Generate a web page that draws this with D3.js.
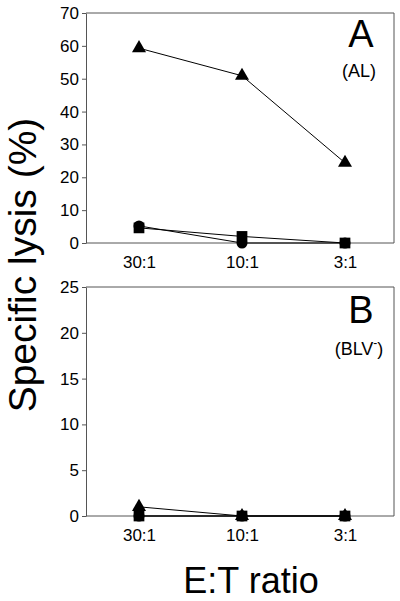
<!DOCTYPE html>
<html>
<head>
<meta charset="utf-8">
<script src="https://cdn.jsdelivr.net/npm/d3@7"></script>
<style>
  html, body { margin: 0; padding: 0; background: #fff; }
  svg { display: block; font-family: "Liberation Sans", Arial, Helvetica, sans-serif; }
</style>
</head>
<body>
<svg id="chart" width="400" height="601"></svg>
<script>
// ---- data ----
const ratios = ["30:1", "10:1", "3:1"];
const panelATicks = [0, 10, 20, 30, 40, 50, 60, 70];
const panelBTicks = [0, 5, 10, 15, 20, 25];
// Panel A (AL)
const aTriangle = [59.3, 50.9, 24.4];
const aCircle = [5.2, 0, 0];
const aSquare = [4.6, 2.0, 0];
// Panel B (BLV-)
const bTriangle = [1.0, 0, 0];
const bCircle = [0, 0, 0];
const bSquare = [0, 0, 0];

const svg = d3.select("#chart");
const left = 86, right = 394;
const x = d3.scalePoint().domain(ratios).range([139, 345]);

const axisColor = "#555";

function panel(cfg) {
  const y = d3.scaleLinear().domain(cfg.domain).range([cfg.bottom, cfg.top]);
  const g = svg.append("g");
  // box top & right
  g.append("path")
    .attr("d", `M${left},${cfg.top}H${right}V${cfg.bottom}`)
    .attr("fill", "none").attr("stroke", axisColor).attr("stroke-width", 1);
  // y axis
  const ya = g.append("g").attr("transform", `translate(${left},0)`)
    .call(d3.axisLeft(y).tickValues(cfg.ticks).tickSize(4).tickPadding(3).tickSizeOuter(0));
  ya.select(".domain").attr("stroke", axisColor);
  ya.selectAll(".tick line").attr("stroke", axisColor);
  ya.selectAll(".tick text").attr("font-size", 17).attr("fill", "#000")
    .attr("font-family", "Liberation Sans, Arial, sans-serif");
  // x axis line
  const xa = g.append("g").attr("transform", `translate(0,${cfg.bottom})`)
    .call(d3.axisBottom(x).tickSize(0).tickPadding(13));
  xa.select(".domain").remove();
  g.append("line").attr("x1", left).attr("x2", right)
    .attr("y1", cfg.bottom).attr("y2", cfg.bottom).attr("stroke", axisColor);
  xa.selectAll(".tick text").attr("font-size", 17).attr("fill", "#000")
    .attr("font-family", "Liberation Sans, Arial, sans-serif");

  const line = d3.line().x((d, i) => x(ratios[i])).y(d => y(d));
  const series = [
    { v: cfg.circle, shape: d3.symbolCircle, size: 95 },
    { v: cfg.triangle, shape: d3.symbolTriangle, size: 85 },
    { v: cfg.square, shape: d3.symbolSquare, size: 115 }
  ];
  series.forEach(s => {
    g.append("path").attr("d", line(s.v)).attr("fill", "none")
      .attr("stroke", "#000").attr("stroke-width", 1);
  });
  series.forEach(s => {
    g.selectAll(null).data(s.v).enter().append("path")
      .attr("d", d3.symbol().type(s.shape).size(s.size))
      .attr("transform", (d, i) => `translate(${x(ratios[i])},${y(d)})`)
      .attr("fill", "#000");
  });
  // panel labels
  g.append("text").attr("x", 361).attr("y", cfg.top + cfg.letterDy)
    .attr("text-anchor", "middle").attr("font-size", 38).text(cfg.letter);
  const sub = g.append("text").attr("x", 359).attr("y", cfg.top + cfg.subDy)
    .attr("text-anchor", "middle").attr("font-size", 18);
  sub.append("tspan").text(cfg.sub);
  if (cfg.sup) {
    sub.append("tspan").attr("dy", -8).attr("font-size", 12).text(cfg.sup);
    sub.append("tspan").attr("dy", 8).text(")");
  }
}

panel({ domain: [0, 70], ticks: panelATicks, top: 13, bottom: 243,
  triangle: aTriangle, circle: aCircle, square: aSquare,
  letter: "A", letterDy: 34, sub: "(AL)", subDy: 64 });
panel({ domain: [0, 25], ticks: panelBTicks, top: 287, bottom: 516,
  triangle: bTriangle, circle: bCircle, square: bSquare,
  letter: "B", letterDy: 36, sub: "(BLV", sup: "-", subDy: 68 });

// axis titles
svg.append("text").attr("transform", "translate(36,265) rotate(-90)")
  .attr("text-anchor", "middle").attr("font-size", 39).text("Specific lysis (%)");
svg.append("text").attr("x", 251).attr("y", 593)
  .attr("text-anchor", "middle").attr("font-size", 36).text("E:T ratio");
</script>
</body>
</html>
